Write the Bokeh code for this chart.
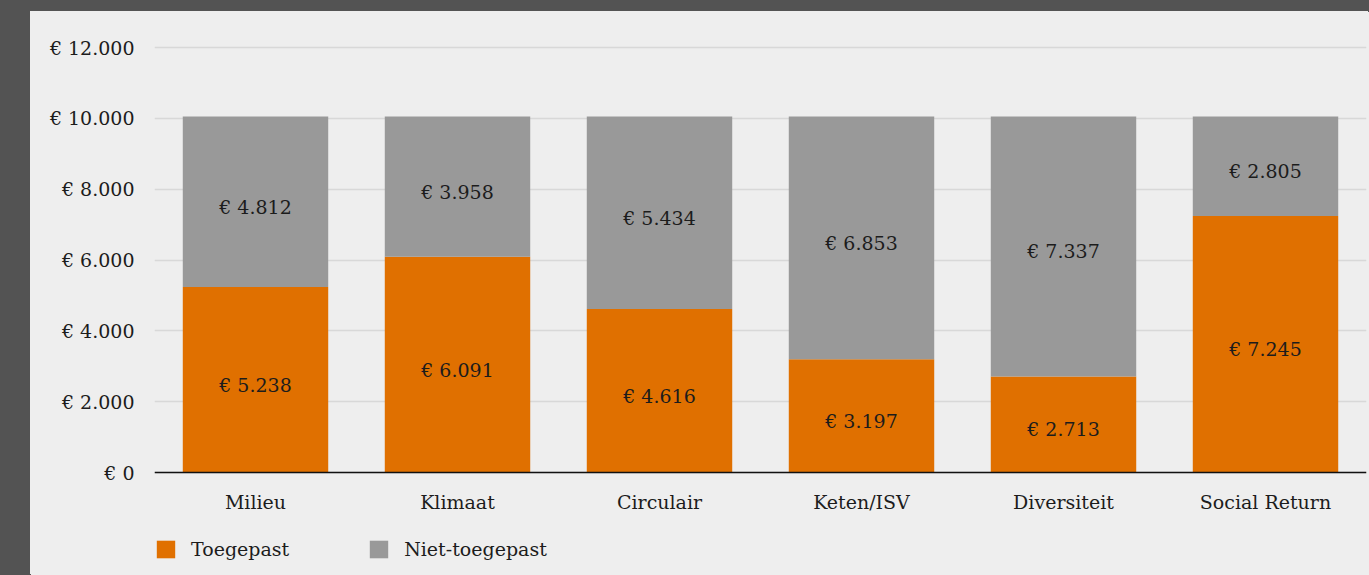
from bokeh.plotting import figure
from bokeh.models import (ColumnDataSource, Legend, LegendItem, FixedTicker,
                          GlobalInlineStyleSheet, Spacer, Span)
from bokeh.layouts import column, row
from bokeh.core.properties import value
from bokeh.embed import file_html
from bokeh.resources import INLINE

categories = ["Milieu", "Klimaat", "Circulair", "Keten/ISV", "Diversiteit", "Social Return"]
toegepast = [5238, 6091, 4616, 3197, 2713, 7245]
niet_toegepast = [4812, 3958, 5434, 6853, 7337, 2805]
y_ticks = [0, 2000, 4000, 6000, 8000, 10000, 12000]

FONT = "DejaVu Serif"
ORANGE = "#e07000"
GREY = "#999999"
BG = "#eeeeee"
DARK = "#535353"
TXT = "#1c1c1c"

FIG_W, FIG_H = 1338, 563
TOP = 34            # border above the frame
HEAD = 2            # pixels of frame above the 12.000 line
PLOT_H = 425        # pixels between 0 and 12.000
Y_MAX = 12000
Y_END = Y_MAX * (PLOT_H + HEAD) / PLOT_H
# the frame also holds the category labels and legend below the zero line
Y_MIN = -Y_MAX * (FIG_H - TOP - HEAD - PLOT_H) / PLOT_H


def euro(v):
    return "€ " + f"{v:,}".replace(",", ".")


src = ColumnDataSource(dict(cat=categories, Toegepast=toegepast, Niet=niet_toegepast))

p = figure(x_range=categories, y_range=(Y_MIN, Y_END), width=FIG_W, height=FIG_H,
           output_backend="svg", toolbar_location=None,
           min_border_left=124, min_border_right=2, min_border_top=TOP, min_border_bottom=0,
           styles={"background-color": BG})
p.background_fill_color = BG
p.border_fill_color = BG
p.outline_line_color = None

rs = p.vbar_stack(["Toegepast", "Niet"], x="cat", width=0.72, source=src,
                  color=[ORANGE, GREY], line_color=None)

# value labels at segment centres
lab_x, lab_y, lab_t = [], [], []
for c, a, b in zip(categories, toegepast, niet_toegepast):
    lab_x += [c, c]
    lab_y += [a / 2, a + b / 2]
    lab_t += [euro(a), euro(b)]
p.text(x=lab_x, y=lab_y, text=lab_t, y_offset=5, text_font=value(FONT),
       text_font_size="19px", text_color=TXT, text_align="center", text_baseline="middle")

# category labels under the zero line
p.text(x=categories, y=[0] * len(categories), text=categories, y_offset=29,
       text_font=value(FONT), text_font_size="19px", text_color=TXT,
       text_align="center", text_baseline="middle")

# zero line
p.add_layout(Span(location=0, dimension="width", line_color="#111111", line_width=1.5))

# axes
p.xaxis.visible = False
p.yaxis.ticker = FixedTicker(ticks=y_ticks)
p.yaxis.major_label_overrides = {t: euro(t) for t in y_ticks}
p.yaxis.axis_line_color = None
p.yaxis.major_tick_line_color = None
p.yaxis.minor_tick_line_color = None
p.yaxis.major_label_standoff = 14
p.yaxis.major_label_text_font = FONT
p.yaxis.major_label_text_font_size = "19px"
p.yaxis.major_label_text_color = TXT

p.xgrid.grid_line_color = None
p.ygrid.grid_line_color = "#d8d8d8"
p.ygrid.grid_line_width = 1.5

legend = Legend(items=[LegendItem(label="Toegepast", renderers=[rs[0]]),
                       LegendItem(label="Niet-toegepast", renderers=[rs[1]])],
                orientation="horizontal", location=(0, 14),
                glyph_width=23, glyph_height=22, label_standoff=14,
                spacing=78, padding=0, margin=0, border_line_color=None,
                background_fill_alpha=0, label_text_font=FONT,
                label_text_font_size="19px", label_text_color=TXT)
p.add_layout(legend, "center")

layout = column(Spacer(height=11),
                row(Spacer(width=30), p))
css = ("html{height:100%%;}"
       "body{overflow:hidden;"
       "background:linear-gradient(%s,%s) top left/100%% 12px no-repeat,"
       "linear-gradient(%s,%s) top left/31px 100%% no-repeat,%s;}"
       % (DARK, DARK, DARK, DARK, BG))
layout.stylesheets = [GlobalInlineStyleSheet(css=css)]

open("out.html", "w").write(file_html(layout, INLINE))
